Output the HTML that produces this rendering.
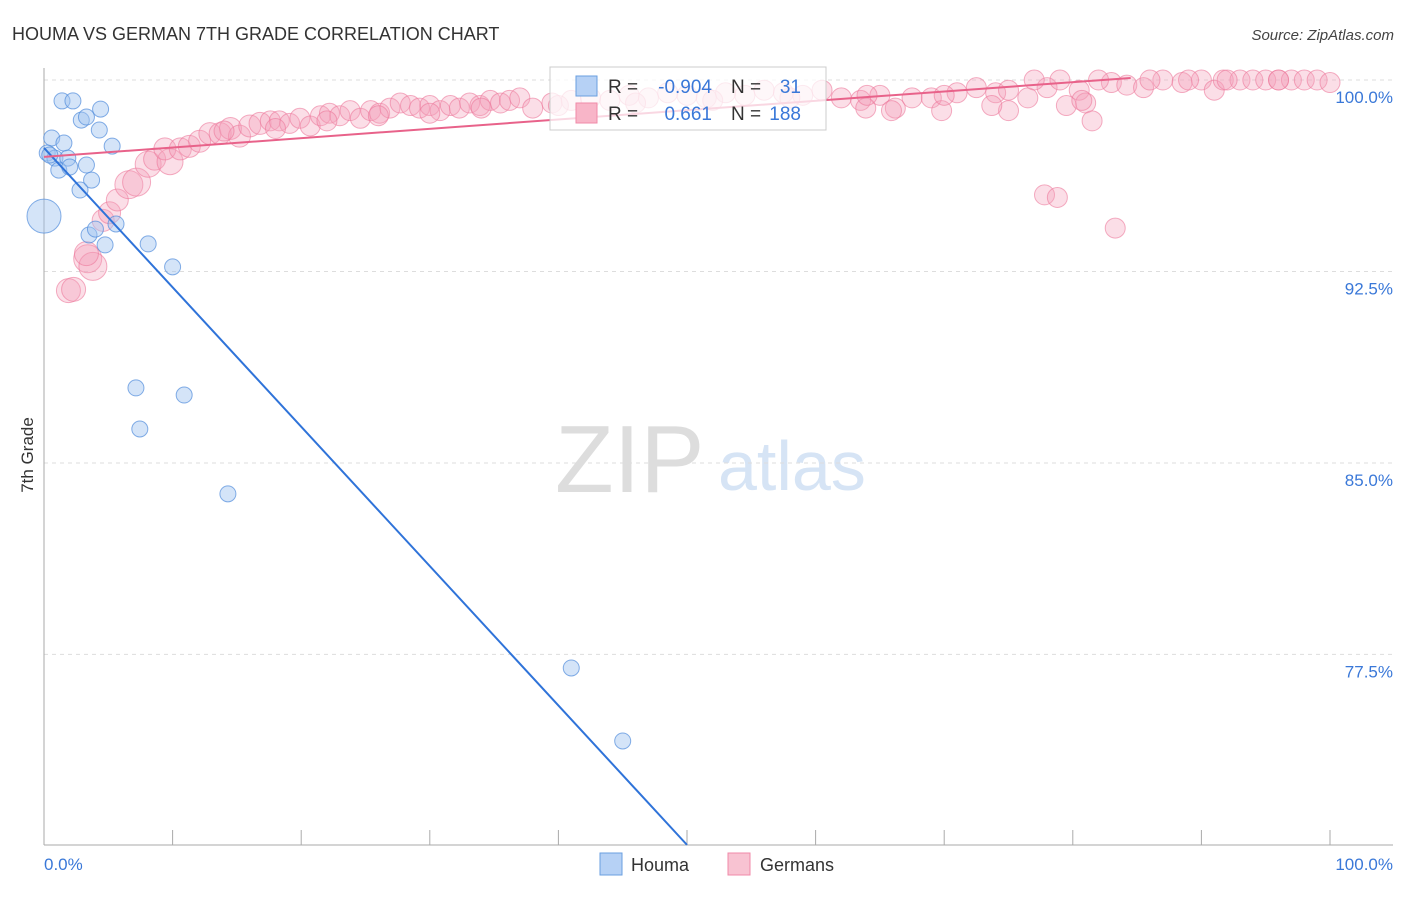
<!DOCTYPE html>
<html><head><meta charset="utf-8"><style>
body{margin:0;background:#fff;font-family:"Liberation Sans",sans-serif}
svg text{font-family:"Liberation Sans",sans-serif}
</style></head><body>
<svg id="chart" width="1406" height="892" xmlns="http://www.w3.org/2000/svg">
<text x="12" y="40" font-size="18" fill="#333">HOUMA VS GERMAN 7TH GRADE CORRELATION CHART</text>
<text x="1394" y="40" font-size="15" fill="#444" text-anchor="end" font-style="italic">Source: ZipAtlas.com</text>
<text transform="translate(33,455) rotate(-90)" font-size="17" fill="#333" text-anchor="middle">7th Grade</text>
<g>
<text x="555" y="492" font-size="96" fill="#ddd" font-family="Liberation Serif, serif">ZIP</text>
<text x="718" y="490" font-size="70" fill="#d6e4f5">atlas</text>
</g>
<g id="grid"></g><g id="axes"></g><g id="pts"></g><g id="lines"></g>
<g>
<rect x="550" y="67" width="276" height="63" fill="rgba(255,255,255,0.75)" stroke="#ccc"/>
<rect x="576" y="76" width="21" height="20" fill="#b6d1f5" stroke="#6a9fe0"/>
<rect x="576" y="103" width="21" height="20" fill="#f8b5c8" stroke="#f08aa8"/>
<text x="608" y="93" font-size="19" fill="#333">R =</text>
<text x="712" y="93" font-size="19" fill="#3a78d8" text-anchor="end">-0.904</text>
<text x="731" y="93" font-size="19" fill="#333">N =</text>
<text x="801" y="93" font-size="19" fill="#3a78d8" text-anchor="end">31</text>
<text x="608" y="120" font-size="19" fill="#333">R =</text>
<text x="712" y="120" font-size="19" fill="#3a78d8" text-anchor="end">0.661</text>
<text x="731" y="120" font-size="19" fill="#333">N =</text>
<text x="801" y="120" font-size="19" fill="#3a78d8" text-anchor="end">188</text>
</g>
<g>
<rect x="600" y="853" width="22" height="22" fill="#b6d1f5" stroke="#6a9fe0"/>
<text x="631" y="871" font-size="18" fill="#333">Houma</text>
<rect x="728" y="853" width="22" height="22" fill="#f8c3d2" stroke="#f08aa8"/>
<text x="760" y="871" font-size="18" fill="#333">Germans</text>
</g>
</svg>
<script>
const yTicks=[100,92.5,85,77.5];
const yTickLabels=["100.0%","92.5%","85.0%","77.5%"];
const xTicks=[0,10,20,30,40,50,60,70,80,90,100];
const houmaX=[1.4,2.25,2.9,3.3,4.4,4.3,0.6,1.55,5.3,0.25,0.85,1.85,1.15,2.0,3.3,3.7,2.8,0,3.5,4.0,4.75,5.6,8.1,10.0,7.15,10.9,7.45,14.3,41.0,45.0,0.45];
const houmaY=[99.18,99.18,98.43,98.55,98.86,98.04,97.73,97.53,97.41,97.14,96.94,96.94,96.47,96.59,96.67,96.08,95.69,94.67,93.93,94.16,93.54,94.36,93.58,92.68,87.94,87.66,86.33,83.79,76.97,74.11,97.06];
const houmaR=[8,8,8,8,8,8,8,8,8,8,8,8,8,8,8,8,8,17,8,8,8,8,8,8,8,8,8,8,8,8,8];
const germX=[1.9,2.3,3.4,3.8,3.3,4.6,5.1,5.7,6.6,7.2,8.1,8.6,9.8,9.4,10.6,11.3,12.1,12.9,13.7,14.5,15.2,16.0,16.8,17.6,18.3,19.1,19.9,20.7,21.5,22.2,23.0,23.8,24.6,25.4,26.1,26.9,27.7,28.5,29.2,30.0,30.8,31.6,32.3,33.1,33.9,34.7,35.5,36.2,37.0,38.0,39.5,41,42.5,44,45.5,47,48.5,50,51.5,53,54.5,56,57.5,59,60.5,62,63.5,65,66.2,67.5,69,69.8,71,72.5,74,75,76.5,78,79.5,80.5,81,83,84.2,85.5,87,88.5,90,91,91.7,93,94,95,96,97,98,99,100,77,79,82,86,89,92,96,77.8,78.8,83.3,81.5,80.7,75,73.7,65.9,63.9,14,18,22,26,30,34,40,46,52,58,64,70];
const germY=[91.75,91.8,93.0,92.7,93.2,94.5,94.8,95.3,95.9,96.0,96.7,96.9,96.8,97.3,97.3,97.4,97.6,97.9,97.9,98.1,97.8,98.2,98.3,98.4,98.4,98.3,98.5,98.2,98.6,98.7,98.6,98.8,98.5,98.8,98.7,98.9,99.1,99.0,98.9,99.0,98.8,99.0,98.9,99.1,99.0,99.2,99.1,99.2,99.3,98.9,99.1,99.2,99.3,99.2,99.4,99.3,99.5,99.4,99.3,99.5,99.4,99.6,99.5,99.4,99.6,99.3,99.2,99.4,98.9,99.3,99.3,98.8,99.5,99.7,99.5,99.6,99.3,99.7,99.0,99.6,99.1,99.9,99.8,99.7,100,99.9,100,99.6,100,100,100,100,100,100,100,100,99.9,100,100,100,100,100,100,100,95.5,95.4,94.2,98.4,99.2,98.8,99.0,98.8,98.9,98.0,98.1,98.4,98.6,98.7,98.9,99.0,99.1,99.2,99.3,99.4,99.4];
const germR=[12,12,14,14,12,11,11,11,14,14,13,11,13,11,11,11,11,11,11,11,11,11,11,10,10,10,10,10,10,10,10,10,10,10,10,10,10,10,10,10,10,10,10,10,10,10,10,10,10];
const trendHX=[0,50],trendHY=[97.34,70.04];
const trendGX=[0,84.5],trendGY=[96.99,100.08];
const NS="http://www.w3.org/2000/svg";
const X=v=>44+v*12.86, Y=v=>80+(100-v)*25.53;
function mk(t,a,p){const e=document.createElementNS(NS,t);for(const k in a)e.setAttribute(k,a[k]);document.getElementById(p).appendChild(e);return e;}
yTicks.forEach((t,i)=>{
 const g=mk('line',{x1:44,x2:1393,y1:Y(t),y2:Y(t),stroke:'#ddd','stroke-dasharray':'4,4'},'grid');
 
 
 const l=mk('text',{x:1393,y:Y(t)+23,'font-size':17,fill:'#3a78d8','text-anchor':'end'},'grid');
 
 
 l.textContent=yTickLabels[i];
});
const ax=mk('line',{x1:44,x2:44,y1:68,y2:845,stroke:'#aaa'},'axes');


const bx=mk('line',{x1:44,x2:1393,y1:845,y2:845,stroke:'#aaa'},'axes');


xTicks.forEach(t=>{const k=mk('line',{x1:X(t),x2:X(t),y1:830,y2:845,stroke:'#aaa'},'axes');
 
 });
const x0=mk('text',{x:44,y:870,'font-size':17,fill:'#3a78d8'},'axes');x0.textContent='0.0%';


const x1=mk('text',{x:1393,y:870,'font-size':17,fill:'#3a78d8','text-anchor':'end'},'axes');x1.textContent='100.0%';


germX.forEach((v,i)=>{const c=mk('circle',{cx:X(v),cy:Y(germY[i]),r:germR[i]||10,fill:'rgba(244,160,185,0.35)',stroke:'rgba(236,120,155,0.6)'},'pts');
 
 });
houmaX.forEach((v,i)=>{const c=mk('circle',{cx:X(v),cy:Y(houmaY[i]),r:houmaR[i],fill:'rgba(160,196,240,0.45)',stroke:'rgba(80,140,220,0.7)'},'pts');
 
 });
const th=mk('line',{x1:X(trendHX[0]),y1:Y(trendHY[0]),x2:X(trendHX[1]),y2:Y(trendHY[1]),stroke:'#2f73d9','stroke-width':2},'lines');


const tg=mk('line',{x1:X(trendGX[0]),y1:Y(trendGY[0]),x2:X(trendGX[1]),y2:Y(trendGY[1]),stroke:'#e8628a','stroke-width':2},'lines');


</script>
</body></html>
